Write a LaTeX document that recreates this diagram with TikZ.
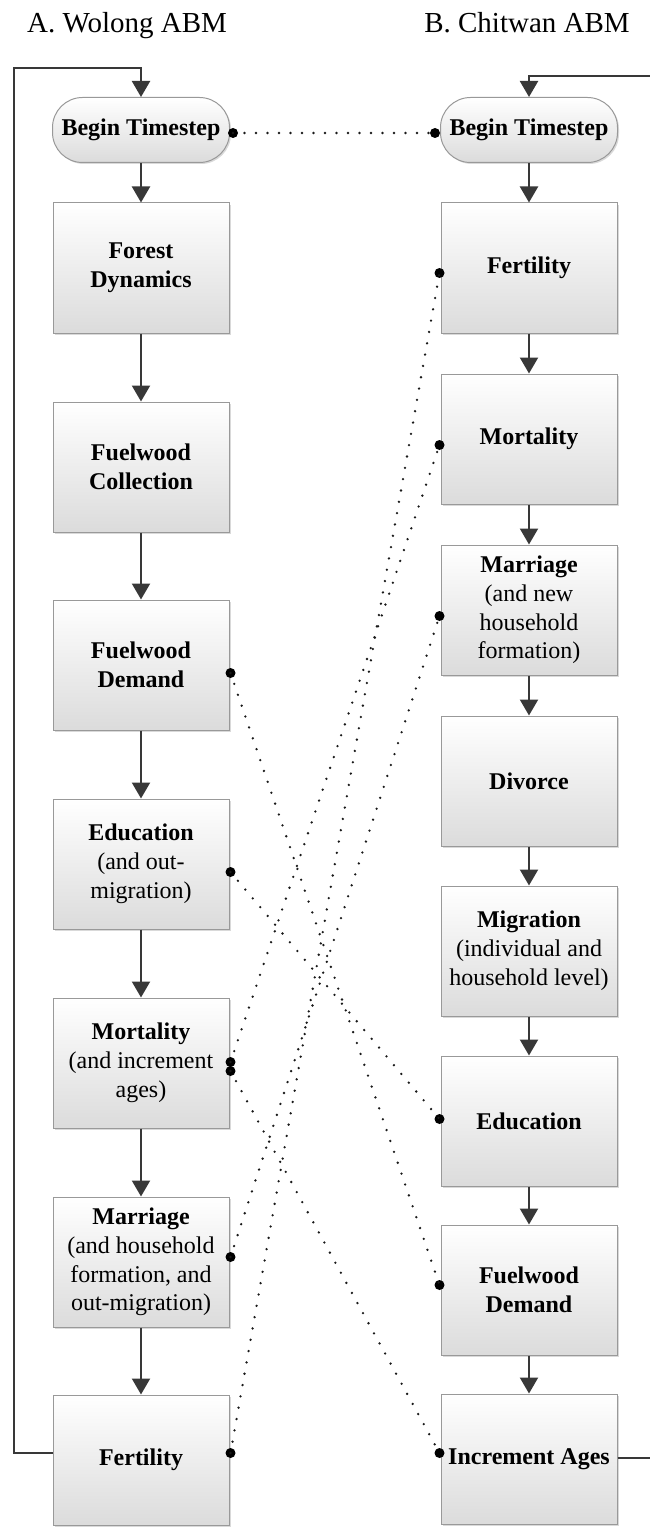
\documentclass[tikz,border=0pt]{standalone}
\usepackage{fontspec}
\setmainfont{Liberation Serif}
\usetikzlibrary{arrows.meta,shadows}
\begin{document}
\begin{tikzpicture}[x=1pt,y=-1pt,
	stage/.style={draw=black!40,line width=1pt,top color=white,bottom color=black!14,minimum width=176pt,minimum height=130pt,inner sep=2pt,align=center,font=\fontsize{24}{28.8}\selectfont,drop shadow={shadow xshift=1.5pt,shadow yshift=-1.5pt,opacity=.3}},
	start/.style={stage,rounded corners=30pt,minimum height=65pt,minimum width=177pt},
	flow/.style={draw=black!78,line width=2.2pt,-{Triangle[width=18pt,length=16pt]}},
	link/.style={black!90,line width=2.6pt,line cap=round,dash pattern=on 0pt off 11.5pt},
	title/.style={anchor=base,font=\fontsize{29}{34}\selectfont}]
	\useasboundingbox(0,0)rectangle(649,1533);
	\node[title](ta)at(127,33){A. Wolong ABM};
	\node[title](tb)at(527,33){B. Chitwan ABM};
	\node[start](lbt)at(141,130){\textbf{Begin Timestep}};
	\node[stage](lfo)at(141,268){\textbf{Forest}\\\textbf{Dynamics}};
	\node[stage](lfc)at(141,467){\textbf{Fuelwood}\\\textbf{Collection}};
	\node[stage](lfd)at(141,665){\textbf{Fuelwood}\\\textbf{Demand}};
	\node[stage](led)at(141,864){\textbf{Education}\\(and out-\\migration)};
	\node[stage](lmo)at(141,1063){\textbf{Mortality}\\(and increment\\ages)};
	\node[stage](lma)at(141,1262){\textbf{Marriage}\\(and household\\formation, and\\out-migration)};
	\node[stage](lfe)at(141,1460){\textbf{Fertility}};
	\node[start](rbt)at(529,130){\textbf{Begin Timestep}};
	\node[stage](rfe)at(529,268){\textbf{Fertility}};
	\node[stage](rmo)at(529,439){\textbf{Mortality}};
	\node[stage](rma)at(529,610){\textbf{Marriage}\\(and new\\household\\formation)};
	\node[stage](rdi)at(529,781){\textbf{Divorce}};
	\node[stage](rmi)at(529,951){\textbf{Migration}\\(individual and\\household level)};
	\node[stage](red)at(529,1121){\textbf{Education}};
	\node[stage](rfd)at(529,1290){\textbf{Fuelwood}\\\textbf{Demand}};
	\node[stage](rin)at(529,1459){\textbf{Increment Ages}};
	\draw[flow](lbt)--(lfo);
	\draw[flow](lfo)--(lfc);
	\draw[flow](lfc)--(lfd);
	\draw[flow](lfd)--(led);
	\draw[flow](led)--(lmo);
	\draw[flow](lmo)--(lma);
	\draw[flow](lma)--(lfe);
	\draw[flow](rbt)--(rfe);
	\draw[flow](rfe)--(rmo);
	\draw[flow](rmo)--(rma);
	\draw[flow](rma)--(rdi);
	\draw[flow](rdi)--(rmi);
	\draw[flow](rmi)--(red);
	\draw[flow](red)--(rfd);
	\draw[flow](rfd)--(rin);
	\draw[flow]([yshift=7pt]lfe.west)-|(14,68)-|(lbt.north);
	\draw[flow]([yshift=1pt]rin.east)-|(656,76)-|(rbt.north);
	\fill(lbt.east)++(3,3)coordinate(p1)circle(5pt);
	\fill(lfd.east)++(1,8)coordinate(p2)circle(5pt);
	\fill(led.east)++(1,8)coordinate(p3)circle(5pt);
	\fill(lmo.east)++(1,-1)coordinate(p4)circle(5pt);
	\fill(lmo.east)++(1,8)coordinate(p5)circle(5pt);
	\fill(lma.east)++(1,-5)coordinate(p6)circle(5pt);
	\fill(lfe.east)++(1,-7)coordinate(p7)circle(5pt);
	\fill(rbt.west)++(-5,3)coordinate(q1)circle(5pt);
	\fill(rfd.west)++(-1,-5)coordinate(q2)circle(5pt);
	\fill(red.west)++(-1,-2)coordinate(q3)circle(5pt);
	\fill(rmo.west)++(-1,6)coordinate(q4)circle(5pt);
	\fill(rin.west)++(-1,-6)coordinate(q5)circle(5pt);
	\fill(rma.west)++(-1,6)coordinate(q6)circle(5pt);
	\fill(rfe.west)++(-1,5)coordinate(q7)circle(5pt);
	\draw[link](p1)--(q1);
	\draw[link](p2)--(q2);
	\draw[link](p3)--(q3);
	\draw[link](p4)--(q4);
	\draw[link](p5)--(q5);
	\draw[link](p6)--(q6);
	\draw[link](p7)--(q7);
\end{tikzpicture}
\end{document}
